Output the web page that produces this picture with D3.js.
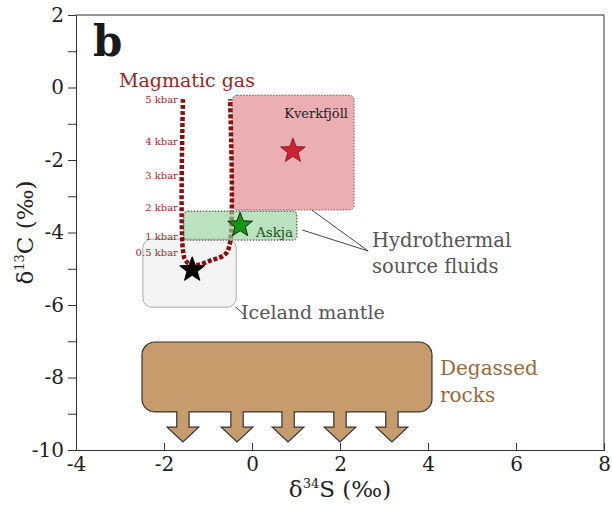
<!DOCTYPE html>
<html>
<head>
<meta charset="utf-8">
<script src="https://cdn.jsdelivr.net/npm/d3@7"></script>
<style>
  body { margin: 0; background: #fff; }
  svg { display: block; }
  svg text { font-family: "DejaVu Serif", "Liberation Serif", serif; font-weight: 400; }
</style>
</head>
<body>
<div id="chart"></div>
<script>
// axes
const xDomain = [-4, 8];
const yDomain = [-10, 2];
const xTicks = [-4, -2, 0, 2, 4, 6, 8];
const yTicks = d3.range(-10, 3, 1);

// source boxes: [x0, x1, y0, y1] in permil
const kverkBox = [-0.45, 2.32, -0.21, -3.38];
const askjaBox = [-1.55, 1.02, -3.41, -4.21];
const icelandBox = [-2.48, -0.36, -4.18, -6.06];
const degassedBox = [-2.5, 4.09, -7.02, -8.95];

// stars [δ34S, δ13C]
const kverkStar = [0.93, -1.75];
const askjaStar = [-0.27, -3.8];
const mantleStar = [-1.36, -5.03];

// magmatic gas trajectory
const gasPath = [
  [-1.57, -0.32], [-1.57, -4.48], [-1.50, -4.79], [-1.30, -4.90],
  [-0.91, -4.76], [-0.61, -4.60], [-0.50, -4.29], [-0.50, -0.32]
];
const kbarLabels = ['5 kbar', '4 kbar', '3 kbar', '2 kbar', '1 kbar', '0.5 kbar'];
const kbarD13C = [-0.32, -1.50, -2.44, -3.30, -4.10, -4.54];

// degassing arrows (δ34S of each arrow) and their tip depth
const arrowX = [-1.57, -0.34, 0.82, 2.0, 3.18];
const arrowHeadBase = -9.37;
const arrowTip = -9.78;

const width = 612, height = 506;
const margin = {left: 76, right: 8, top: 15, bottom: 56};

const svg = d3.select('#chart').append('svg')
  .attr('width', width)
  .attr('height', height);

const x = d3.scaleLinear(xDomain, [margin.left, width - margin.right]);
const y = d3.scaleLinear(yDomain, [height - margin.bottom, margin.top]);

function roundBox(g, [x0, x1, y0, y1], rx) {
  return g.append('rect')
    .attr('x', x(x0)).attr('y', y(y0))
    .attr('width', x(x1) - x(x0)).attr('height', y(y1) - y(y0))
    .attr('rx', rx).attr('ry', rx);
}

function star(cx, cy, r) {
  const pts = d3.range(10).map(i => {
    const a = -Math.PI / 2 + i * Math.PI / 5;
    const rr = i % 2 ? r * 0.42 : r;
    return [cx + rr * Math.cos(a), cy + rr * Math.sin(a)];
  });
  return 'M' + pts.join('L') + 'Z';
}

// degassed rocks box with arrows
const shaftHalf = 0.14, headHalf = 0.36;
arrowX.forEach(ax => {
  const top = degassedBox[3];
  const outline = [
    [ax - shaftHalf, top], [ax - shaftHalf, arrowHeadBase], [ax - headHalf, arrowHeadBase],
    [ax, arrowTip], [ax + headHalf, arrowHeadBase], [ax + shaftHalf, arrowHeadBase], [ax + shaftHalf, top]
  ];
  svg.append('path')
    .attr('d', d3.line().x(d => x(d[0])).y(d => y(d[1]))(outline) + 'Z')
    .attr('fill', '#c69c6d')
    .attr('stroke', '#333')
    .attr('stroke-width', 1.2);
});
roundBox(svg, degassedBox, 13)
  .attr('fill', '#c69c6d')
  .attr('stroke', '#333')
  .attr('stroke-width', 1.2);
arrowX.forEach(ax => {
  svg.append('rect')
    .attr('x', x(ax - shaftHalf) + 0.7)
    .attr('y', y(degassedBox[3]) - 2)
    .attr('width', x(ax + shaftHalf) - x(ax - shaftHalf) - 1.4)
    .attr('height', 4)
    .attr('fill', '#c69c6d');
});

// iceland mantle
roundBox(svg, icelandBox, 9)
  .attr('fill', '#f4f4f4')
  .attr('stroke', '#aaa')
  .attr('stroke-width', 1);

// kverkfjöll
roundBox(svg, kverkBox, 5)
  .attr('fill', '#ebaeb3')
  .attr('stroke', '#666')
  .attr('stroke-width', 1)
  .attr('stroke-dasharray', '1.5,1.5');

// magmatic gas path
svg.append('path')
  .attr('d', d3.line().x(d => x(d[0])).y(d => y(d[1])).curve(d3.curveCatmullRom)(gasPath))
  .attr('fill', 'none')
  .attr('stroke', '#8e0c0c')
  .attr('stroke-width', 4.5)
  .attr('stroke-dasharray', '4,2');

// askja (translucent over the path)
roundBox(svg, askjaBox, 4)
  .attr('fill', 'rgb(150,210,155)')
  .attr('fill-opacity', 0.65)
  .attr('stroke', '#333')
  .attr('stroke-width', 1)
  .attr('stroke-dasharray', '1.5,1.5');

// stars
svg.append('path').attr('d', star(x(kverkStar[0]), y(kverkStar[1]), 13))
  .attr('fill', '#cc2233').attr('stroke', '#7a1a22').attr('stroke-width', 0.8);
svg.append('path').attr('d', star(x(askjaStar[0]), y(askjaStar[1]), 13))
  .attr('fill', '#159615').attr('stroke', '#0b2f0b').attr('stroke-width', 1);
svg.append('path').attr('d', star(x(mantleStar[0]), y(mantleStar[1]), 13))
  .attr('fill', '#000').attr('stroke', '#000').attr('stroke-width', 1);

// pressure labels
svg.append('g').selectAll('text')
  .data(kbarLabels)
  .join('text')
    .attr('x', x(gasPath[0][0]) - 5)
    .attr('y', (d, i) => y(kbarD13C[i]))
    .attr('dy', '0.35em')
    .attr('text-anchor', 'end')
    .attr('font-size', 10)
    .attr('fill', '#a52a2a')
    .text(d => d);

// annotation lines
const lineColor = '#444';
[[[1.36, -3.38], [2.64, -4.51]], [[1.14, -3.93], [2.64, -4.51]], [[-0.38, -6.05], [-0.18, -6.26]]]
  .forEach(([a, b]) => svg.append('line')
    .attr('x1', x(a[0])).attr('y1', y(a[1]))
    .attr('x2', x(b[0])).attr('y2', y(b[1]))
    .attr('stroke', lineColor).attr('stroke-width', 1));

function label(text, px, py, size, color, anchor = 'start') {
  return svg.append('text')
    .attr('x', px).attr('y', py)
    .attr('font-size', size)
    .attr('fill', color)
    .attr('text-anchor', anchor)
    .text(text);
}

label('b', 93, 56, 42, '#1a1a1a').style('font-weight', 'bold');
label('Magmatic gas', 119, 87, 19, '#a51d1d');
label('Kverkfjöll', 348, 118, 13, '#222', 'end');
label('Askja', 256, 237, 13.5, '#1e4d1e');
label('Hydrothermal', 372, 247, 19.5, '#555');
label('source fluids', 372, 273, 19.5, '#555');
label('Iceland mantle', 241, 319, 19, '#555');
label('Degassed', 440, 375, 20, '#9a6a3e');
label('rocks', 440, 402, 20, '#9a6a3e');

// axes
const axisColor = '#333';
const yAxis = svg.append('g')
  .attr('transform', `translate(${margin.left},0)`)
  .call(d3.axisLeft(y).tickValues(yTicks).tickSize(8).tickPadding(4)
    .tickFormat(d => d % 2 === 0 ? d : ''));
const xAxis = svg.append('g')
  .attr('transform', `translate(0,${height - margin.bottom})`)
  .call(d3.axisBottom(x).tickValues(xTicks).tickSize(-7).tickPadding(7)
    .tickFormat(d => d));
[yAxis, xAxis].forEach(g => {
  g.attr('font-family', null);
  g.select('.domain').attr('stroke', axisColor);
  g.selectAll('.tick line').attr('stroke', axisColor);
  g.selectAll('.tick text')
    .attr('font-size', 20)
    .attr('fill', '#222');
});
xAxis.selectAll('.tick').filter(d => d === -4).select('line').remove();

// frame top and right
svg.append('path')
  .attr('d', `M${x(-4)},${y(2)}H${x(8)}V${y(-10)}`)
  .attr('fill', 'none')
  .attr('stroke', axisColor);

// axis titles
const xTitle = svg.append('text')
  .attr('x', (x(-4) + x(8)) / 2)
  .attr('y', 497)
  .attr('text-anchor', 'middle')
  .attr('font-size', 23)
  .attr('fill', '#222');
xTitle.append('tspan').text('δ');
xTitle.append('tspan').attr('font-size', 13).attr('dy', -9).text('34');
xTitle.append('tspan').attr('dy', 9).text('S (‰)');

const yTitle = svg.append('text')
  .attr('transform', `translate(33,${(y(2) + y(-10)) / 2}) rotate(-90)`)
  .attr('text-anchor', 'middle')
  .attr('font-size', 23)
  .attr('fill', '#222');
yTitle.append('tspan').text('δ');
yTitle.append('tspan').attr('font-size', 13).attr('dy', -9).text('13');
yTitle.append('tspan').attr('dy', 9).text('C (‰)');
</script>
</body>
</html>
